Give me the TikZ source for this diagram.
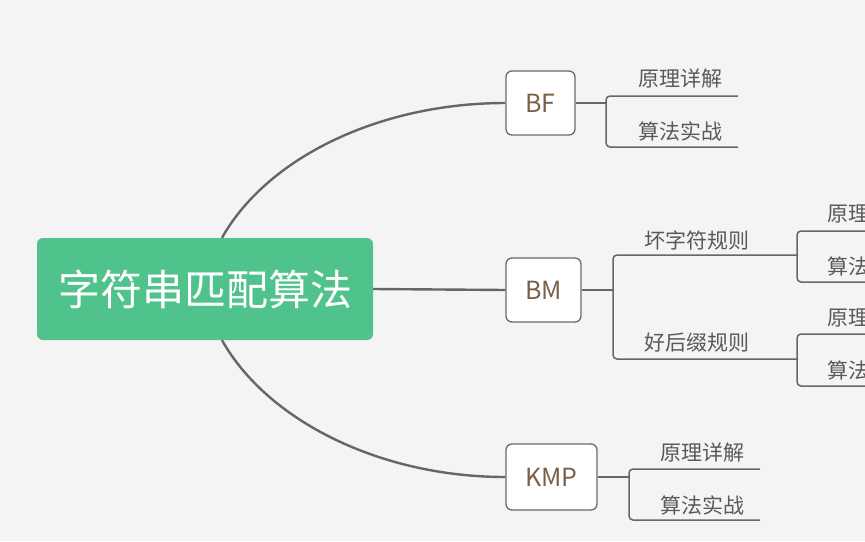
\documentclass[tikz,border=0pt]{standalone}
\usepackage{fontspec}
\newfontfamily\cjk{Noto Sans CJK SC}
\definecolor{bgc}{HTML}{F4F4F4}
\definecolor{rootgreen}{HTML}{50C38C}
\definecolor{linec}{HTML}{666666}
\definecolor{boxline}{HTML}{6A6A6A}
\definecolor{brownt}{HTML}{7B5F46}
\definecolor{leaft}{HTML}{595959}
\begin{document}
\begin{tikzpicture}[x=1pt,y=-1pt,
  rootbox/.style={fill=rootgreen, draw=none, rounded corners=6pt, text=white, font=\cjk\fontsize{42}{42}\selectfont, inner sep=0pt},
  topicbox/.style={fill=white, draw=boxline, line width=1.3pt, rounded corners=6pt, text=brownt, font=\cjk\fontsize{25}{25}\selectfont, inner sep=0pt},
  leaf/.style={text=leaft, font=\cjk\fontsize{21}{21}\selectfont, inner sep=0pt},
  mainline/.style={draw=linec, line width=2.4pt},
  subline/.style={draw=linec, line width=1.5pt, rounded corners=4pt}]
\fill[bgc] (0,0) rectangle (865,541);
\useasboundingbox (0,0) rectangle (865,541);
\begin{scope}
\clip (0,0) rectangle (865,541);
% nodes
\node[rootbox, minimum width=336pt, minimum height=102pt] (root) at (205,289) {字符串匹配算法};
\node[topicbox, minimum width=69pt, minimum height=64pt] (bf) at (540.5,103) {BF};
\node[topicbox, minimum width=75pt, minimum height=64pt] (bm) at (543.5,290) {BM};
\node[topicbox, minimum width=91pt, minimum height=66pt] (kmp) at (551.5,477) {KMP};
% main connectors
\draw[mainline] ([xshift=17pt]root.north) .. controls +(45,-80) and +(-126,0) .. (bf.west);
\draw[mainline] ([xshift=17pt]root.south) .. controls +(45,80) and +(-126,0) .. (kmp.west);
\draw[mainline] (root.east) -- (bm.west);
% BF children
\node[leaf] (bf1) at (680,79) {原理详解};
\node[leaf] (bf2) at (680,131) {算法实战};
\coordinate (bfj) at (606,103);
\coordinate (bf1a) at (606,96); \coordinate (bf1b) at (738,96);
\coordinate (bf2a) at (606,147); \coordinate (bf2b) at (738,147);
\draw[subline] (bf.east) -- (bfj);
\draw[subline] (bf1b) -- (bf1a) -- (bf2a) -- (bf2b);
% BM children
\node[leaf] (bmr1) at (697,240) {坏字符规则};
\node[leaf] (bmr2) at (697,343) {好后缀规则};
\coordinate (bmj) at (613,290);
\coordinate (bm1a) at (613,255); \coordinate (bm1b) at (797,255);
\coordinate (bm2a) at (613,359); \coordinate (bm2b) at (797,359);
\draw[subline] (bm.east) -- (bmj);
\draw[subline] (bm1b) -- (bm1a) -- (bm2a) -- (bm2b);
% BM rule 1 children
\node[leaf, anchor=west] (r1a) at (827,214) {原理详解};
\node[leaf, anchor=west] (r1b) at (827,266) {算法实战};
\coordinate (r1t) at (797,231); \coordinate (r1te) at (880,231);
\coordinate (r1u) at (797,282); \coordinate (r1ue) at (880,282);
\draw[subline] (r1te) -- (r1t) -- (r1u) -- (r1ue);
% BM rule 2 children
\node[leaf, anchor=west] (r2a) at (827,318) {原理详解};
\node[leaf, anchor=west] (r2b) at (827,370) {算法实战};
\coordinate (r2t) at (797,334); \coordinate (r2te) at (880,334);
\coordinate (r2u) at (797,386); \coordinate (r2ue) at (880,386);
\draw[subline] (r2te) -- (r2t) -- (r2u) -- (r2ue);
% KMP children
\node[leaf] (k1) at (702,453) {原理详解};
\node[leaf] (k2) at (702,505) {算法实战};
\coordinate (kj) at (629,477);
\coordinate (k1a) at (629,469); \coordinate (k1b) at (760,469);
\coordinate (k2a) at (629,520); \coordinate (k2b) at (760,520);
\draw[subline] (kmp.east) -- (kj);
\draw[subline] (k1b) -- (k1a) -- (k2a) -- (k2b);
\end{scope}
\end{tikzpicture}
\end{document}
